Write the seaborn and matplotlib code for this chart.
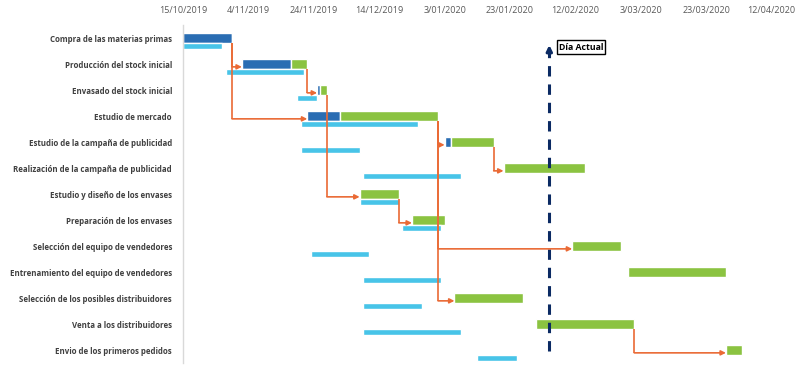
import numpy as np
import pandas as pd
import matplotlib
matplotlib.use('Agg')
import matplotlib.pyplot as plt
import matplotlib.dates as mdates
import seaborn as sns

# Tasks of the project plan (top to bottom)
tasks = [
    'Compra de las materias primas',
    'Producción del stock inicial',
    'Envasado del stock inicial',
    'Estudio de mercado',
    'Estudio de la campaña de publicidad',
    'Realización de la campaña de publicidad',
    'Estudio y diseño de los envases',
    'Preparación de los envases',
    'Selección del equipo de vendedores',
    'Entrenamiento del equipo de vendedores',
    'Selección de los posibles distribuidores',
    'Venta a los distribuidores',
    'Envio de los primeros pedidos',
]

# Planned bars: start date, days done (dark blue), days remaining (green)
plan_start = ['2019-10-15', '2019-11-02', '2019-11-25', '2019-11-22', '2020-01-03',
              '2020-01-21', '2019-12-08', '2019-12-24', '2020-02-11', '2020-02-28',
              '2020-01-06', '2020-01-31', '2020-03-29']
done_days = [15, 15, 1, 10, 2, 0, 0, 0, 0, 0, 0, 0, 0]
remaining_days = [0, 5, 2, 30, 13, 25, 12, 10, 15, 30, 21, 30, 5]

# Light blue bars: start date and duration
base_start = ['2019-10-15', '2019-10-28', '2019-11-19', '2019-11-20', '2019-11-20',
              '2019-12-09', '2019-12-08', '2019-12-21', '2019-11-23', '2019-12-09',
              '2019-12-09', '2019-12-09', '2020-01-13']
base_days = [12, 24, 6, 36, 18, 30, 12, 12, 18, 24, 18, 30, 12]

# Dependencies (predecessor index, successor index)
links = [(0, 1), (0, 3), (1, 2), (2, 6), (3, 4), (3, 8), (3, 10),
         (4, 5), (6, 7), (11, 12)]

today = '2020-02-04'
tick_dates = ['2019-10-15', '2019-11-04', '2019-11-24', '2019-12-14', '2020-01-03',
              '2020-01-23', '2020-02-12', '2020-03-03', '2020-03-23', '2020-04-12']

sns.set_theme(style='white')
plt.rcParams['font.family'] = ['Open Sans', 'DejaVu Sans']

df = pd.DataFrame({
    'task': tasks,
    'start': mdates.date2num(pd.to_datetime(plan_start)),
    'done': done_days,
    'rem': remaining_days,
    'bstart': mdates.date2num(pd.to_datetime(base_start)),
    'bdays': base_days,
})
rows = np.arange(len(tasks))

dark_blue = '#2a6db3'
green = '#8bc341'
light_blue = '#48c4e8'
orange = '#ea6a35'
navy = '#0b2a63'

fig = plt.figure(figsize=(8.1, 3.75), dpi=100)
ax = fig.add_axes([183/810, 12/375, (771.7 - 183)/810, 338/375])

# bars
ax.barh(rows, df['done'], left=df['start'], height=0.36, color=dark_blue)
ax.barh(rows, df['rem'], left=df['start'] + df['done'], height=0.36, color=green)
ax.barh(rows + 0.305, df['bdays'], left=df['bstart'], height=0.25, color=light_blue)

# dependency arrows
end = df['start'] + df['done'] + df['rem']
for p, s in links:
    xe = end[p]
    ys = s + 0.11
    ax.plot([xe, xe], [p + 0.18, ys], color=orange, lw=1.2, solid_capstyle='butt')
    ax.annotate('', xy=(df['start'][s], ys), xytext=(xe, ys),
                arrowprops=dict(arrowstyle='-|>', color=orange, lw=1.2,
                                shrinkA=0, shrinkB=0, mutation_scale=7))

# current day marker
t = mdates.date2num(pd.Timestamp(today))
ax.plot([t, t], [12.05, 0.55], color=navy, lw=2.2, dashes=(3.4, 2.6))
ax.annotate('', xy=(t, 0.27), xytext=(t, 0.6),
            arrowprops=dict(arrowstyle='-|>', color=navy, lw=2.2,
                            shrinkA=0, shrinkB=0, mutation_scale=8))
ax.text(t + 2.9, 0.35, 'Día Actual', fontsize=6.3, fontweight='bold',
        color='black', va='center', ha='left',
        bbox=dict(facecolor='white', edgecolor='black', lw=1, boxstyle='square,pad=0.25'))

# axes formatting
ax.set_ylim(12.5, -0.5)
ax.set_xlim(mdates.date2num(pd.Timestamp(tick_dates[0])),
            mdates.date2num(pd.Timestamp(tick_dates[-1])))
ax.set_yticks(rows)
ax.set_yticklabels(tasks, fontsize=5.7, fontweight='bold', color='#404040')
tick_nums = mdates.date2num(pd.to_datetime(tick_dates))
ax.set_xticks(tick_nums)
ax.set_xticklabels([f"{d.day}/{d.month:02d}/{d.year}" for d in pd.to_datetime(tick_dates)],
                   fontsize=6.5, color='#595959')
ax.xaxis.tick_top()
ax.tick_params(axis='both', length=0)
ax.tick_params(axis='x', pad=7)
ax.tick_params(axis='y', pad=8)
sns.despine(ax=ax, top=True, right=True, bottom=True, left=False)
ax.spines['left'].set_color('#d9d9d9')
ax.spines['left'].set_linewidth(1)

plt.savefig('out.png', dpi=100)
